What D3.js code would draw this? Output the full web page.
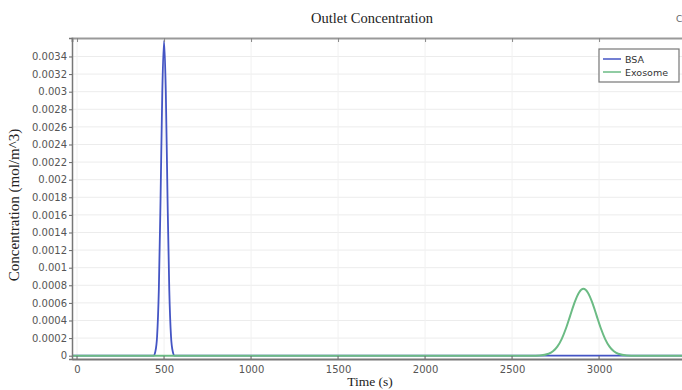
<!DOCTYPE html>
<html>
<head>
<meta charset="utf-8">
<script src="https://cdn.jsdelivr.net/npm/d3@7"></script>
<style>
  body { margin: 0; background: #fff; }
  svg { display: block; }
  .tick text { font-family: "DejaVu Sans", sans-serif; font-size: 10px; fill: #555; }
</style>
</head>
<body>
<svg id="chart" width="682" height="390"></svg>
<script>
// values
var seriesNames = ['BSA', 'Exosome'];
var xTicks = [0, 500, 1000, 1500, 2000, 2500, 3000];
var yTicks = [0, 0.0002, 0.0004, 0.0006, 0.0008, 0.001, 0.0012, 0.0014, 0.0016,
    0.0018, 0.002, 0.0022, 0.0024, 0.0026, 0.0028, 0.003, 0.0032, 0.0034];

var bsaTime = [-29, 400, 440, 450, 460, 470, 480, 490, 500, 510, 520, 530, 540, 550, 560, 600, 3600];
var bsaConc = [0, 0, 0.000002, 0.000048, 0.00022, 0.00075, 0.00179, 0.00301, 0.00358,
    0.00301, 0.00179, 0.00075, 0.00022, 0.000048, 0.000002, 0, 0];

var exoTime = [-29, 2500, 2610, 2660, 2710, 2735, 2760, 2785, 2810, 2835, 2860, 2885, 2910,
    2935, 2960, 2985, 3010, 3035, 3060, 3085, 3110, 3160, 3210, 3600];
var exoConc = [0, 0, 0.0000002, 0.000003, 0.000022, 0.00005, 0.000103, 0.000189, 0.000312,
    0.000461, 0.000609, 0.000719, 0.00076, 0.000719, 0.000609, 0.000461, 0.000312,
    0.000189, 0.000103, 0.00005, 0.000022, 0.000003, 0.0000002, 0];

var colors = ['#4455c4', '#6bbb84'];

var svg = d3.select('#chart');
var plotLeft = 72, plotRight = 700, plotTop = 38, plotBottom = 359;

var x = d3.scaleLinear().domain([-29, 3580]).range([plotLeft, plotRight]);
var y = d3.scaleLinear().domain([-0.0000375, 0.00361]).range([plotBottom, plotTop]);

// grid
svg.append('g').selectAll('line')
    .data(yTicks)
    .enter()
    .append('line')
    .attr('x1', plotLeft).attr('x2', plotRight)
    .attr('y1', function (d) { return y(d); })
    .attr('y2', function (d) { return y(d); })
    .attr('stroke', '#ececec');

svg.append('g').selectAll('line')
    .data(xTicks)
    .enter()
    .append('line')
    .attr('y1', plotTop).attr('y2', plotBottom)
    .attr('x1', function (d) { return x(d); })
    .attr('x2', function (d) { return x(d); })
    .attr('stroke', '#f1f1f1');

// lines
var plot = svg.append('g');
var line = d3.line()
    .x(function (d) { return x(d[0]); })
    .y(function (d) { return y(d[1]); })
    .curve(d3.curveMonotoneX);

plot.append('path')
    .datum(d3.zip(bsaTime, bsaConc))
    .attr('d', line)
    .attr('fill', 'none')
    .attr('stroke', colors[0])
    .attr('stroke-width', 1.8);

plot.append('path')
    .datum(d3.zip(exoTime, exoConc))
    .attr('d', line)
    .attr('fill', 'none')
    .attr('stroke', colors[1])
    .attr('stroke-width', 2);

// axes
var xAxis = svg.append('g')
    .attr('transform', 'translate(0,' + plotBottom + ')')
    .call(d3.axisBottom(x).tickValues(xTicks).tickSize(0).tickPadding(7).tickFormat(d3.format('d')));
xAxis.select('.domain').attr('stroke', '#777').attr('stroke-width', 2);

svg.append('g').selectAll('line')
    .data(xTicks)
    .enter()
    .append('line')
    .attr('x1', function (d) { return x(d); })
    .attr('x2', function (d) { return x(d); })
    .attr('y1', plotBottom).attr('y2', plotBottom - 3)
    .attr('stroke', '#666');

var topAxis = svg.append('g')
    .attr('transform', 'translate(0,' + plotTop + ')')
    .call(d3.axisTop(x).tickValues(xTicks).tickSize(-4).tickFormat(''));
topAxis.select('.domain').attr('stroke', '#999').attr('stroke-width', 2);
topAxis.selectAll('.tick line').attr('stroke', '#888');

var yAxis = svg.append('g')
    .attr('transform', 'translate(' + plotLeft + ',0)')
    .call(d3.axisLeft(y).tickValues(yTicks).tickSize(3).tickPadding(2)
        .tickFormat(function (d) { return d === 0 ? '0' : String(+d.toFixed(4)); }));
yAxis.select('.domain').attr('stroke', '#777').attr('stroke-width', 1.5);
yAxis.selectAll('.tick line').attr('stroke', '#666');

// title and labels
svg.append('text')
    .attr('x', 372).attr('y', 23)
    .attr('text-anchor', 'middle')
    .style('font-family', '"Liberation Serif", serif')
    .style('font-size', '14.5px')
    .attr('fill', '#222')
    .text('Outlet Concentration');

svg.append('text')
    .attr('x', 370).attr('y', 386)
    .attr('text-anchor', 'middle')
    .style('font-family', '"Liberation Serif", serif')
    .style('font-size', '13.5px')
    .attr('fill', '#222')
    .text('Time (s)');

svg.append('text')
    .attr('transform', 'translate(19,205) rotate(-90)')
    .attr('text-anchor', 'middle')
    .style('font-family', '"Liberation Serif", serif')
    .style('font-size', '15px')
    .attr('fill', '#222')
    .text('Concentration (mol/m^3)');

svg.append('text')
    .attr('x', 676).attr('y', 22)
    .style('font-family', '"DejaVu Sans", sans-serif')
    .style('font-size', '9px')
    .attr('fill', '#666')
    .text('C');

// legend
var legend = svg.append('g').attr('transform', 'translate(599,49)');
legend.append('rect')
    .attr('width', 80).attr('height', 33)
    .attr('fill', '#fff')
    .attr('stroke', '#777')
    .attr('stroke-width', 1.2);

var items = legend.selectAll('g.item')
    .data(seriesNames)
    .enter()
    .append('g')
    .attr('class', 'item')
    .attr('transform', function (d, i) { return 'translate(0,' + (10 + i * 13) + ')'; });

items.append('line')
    .attr('x1', 4).attr('x2', 22)
    .attr('stroke', function (d, i) { return colors[i]; })
    .attr('stroke-width', 1.5);

items.append('text')
    .attr('x', 26).attr('y', 3.5)
    .style('font-family', '"DejaVu Sans", sans-serif')
    .style('font-size', '9.5px')
    .attr('fill', '#333')
    .text(function (d) { return d; });
</script>
</body>
</html>
